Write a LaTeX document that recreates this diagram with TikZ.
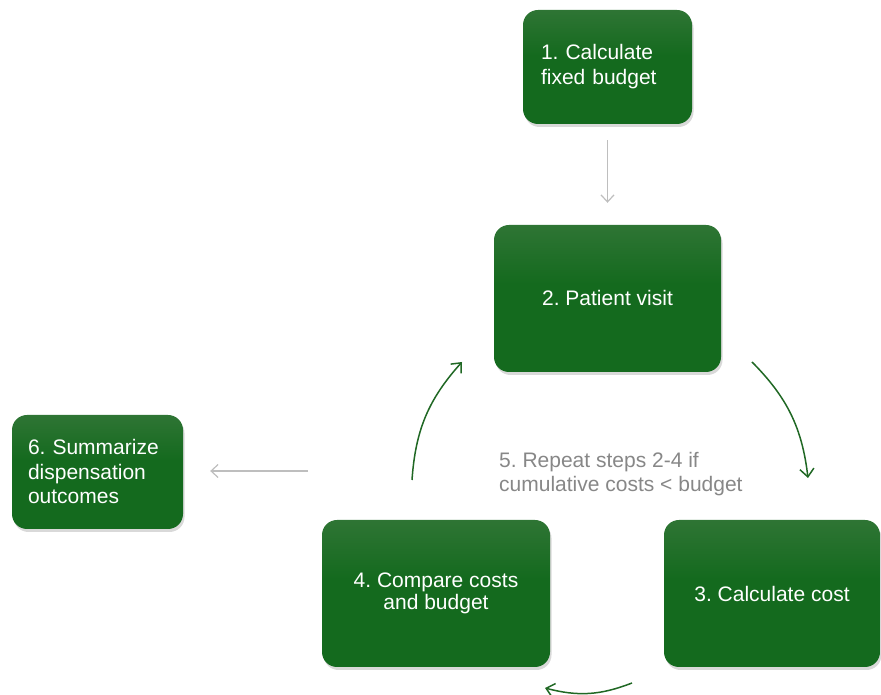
\documentclass[tikz,border=0pt]{standalone}
\usepackage{fontspec}
\setmainfont{Liberation Sans}
\usetikzlibrary{arrows.meta,shadows}
\definecolor{gL}{RGB}{80,130,80}
\definecolor{gD}{RGB}{20,106,30}
\definecolor{arrG}{RGB}{32,104,36}
\definecolor{arrGray}{RGB}{190,190,190}
\definecolor{txtGray}{RGB}{135,135,135}
\pgfdeclareverticalshading{boxshade}{100bp}{color(0bp)=(gD); color(55bp)=(gD); color(80bp)=(gL!55!gD); color(100bp)=(gL)}
\frenchspacing
\begin{document}
\begin{tikzpicture}[x=1pt,y=1pt,
  stepbox/.style={rectangle, rounded corners=15pt, shading=boxshade, text=white,
    font=\fontsize{21}{25}\selectfont, inner sep=0pt,
    drop shadow={shadow xshift=1.5pt, shadow yshift=-3pt, opacity=0.3}},
  grayarrow/.style={draw=arrGray, line width=1.2pt, -{Straight Barb[length=7pt,width=13pt]}},
  greenarrow/.style={draw=arrG, line width=1.5pt, -{Straight Barb[length=8pt,width=14pt]}}]
\clip (0,0) rectangle (881,695);
\useasboundingbox (0,0) rectangle (881,695);
\node[stepbox, minimum width=169pt, minimum height=114pt, text width=133pt, align=left] (b1) at (607.5,628) {\frenchspacing 1. Calculate\\fixed budget};
\node[stepbox, minimum width=227pt, minimum height=147pt, align=center] (b2) at (607.5,396.5) {\frenchspacing 2. Patient visit};
\node[stepbox, minimum width=216pt, minimum height=147pt, align=center] (b3) at (772,101.5) {\frenchspacing 3. Calculate cost};
\node[stepbox, minimum width=228pt, minimum height=147pt, align=center, font=\fontsize{21}{22}\selectfont] (b4) at (436,101.5) {\frenchspacing 4. Compare costs\\and budget};
\node[stepbox, minimum width=171pt, minimum height=114pt, text width=139pt, align=left, font=\fontsize{21}{24.5}\selectfont] (b6) at (97.5,223) {\frenchspacing 6. Summarize\\dispensation\\outcomes};
\node[anchor=west, align=left, text=txtGray, font=\fontsize{21}{24}\selectfont, inner sep=0pt] (t5) at (499,221) {\frenchspacing 5. Repeat steps 2-4 if\\cumulative costs < budget};
\coordinate (a1s) at (752,333);
\coordinate (a1e) at (808,217);
\coordinate (a2s) at (412,215);
\coordinate (a2e) at (462,333);
\coordinate (a3s) at (632,12);
\coordinate (a3e) at (545,7);
\coordinate (g6) at (308,224);
\draw[grayarrow, shorten <=16pt, shorten >=22pt] (b1.south) -- (b2.north);
\draw[grayarrow, shorten >=27pt] (g6) -- (b6.east |- g6);
\draw[greenarrow] (a1s) to[bend left=19] (a1e);
\draw[greenarrow] (a2s) to[bend left=19] (a2e);
\draw[greenarrow] (a3s) to[bend left=18] (a3e);
\end{tikzpicture}
\end{document}
